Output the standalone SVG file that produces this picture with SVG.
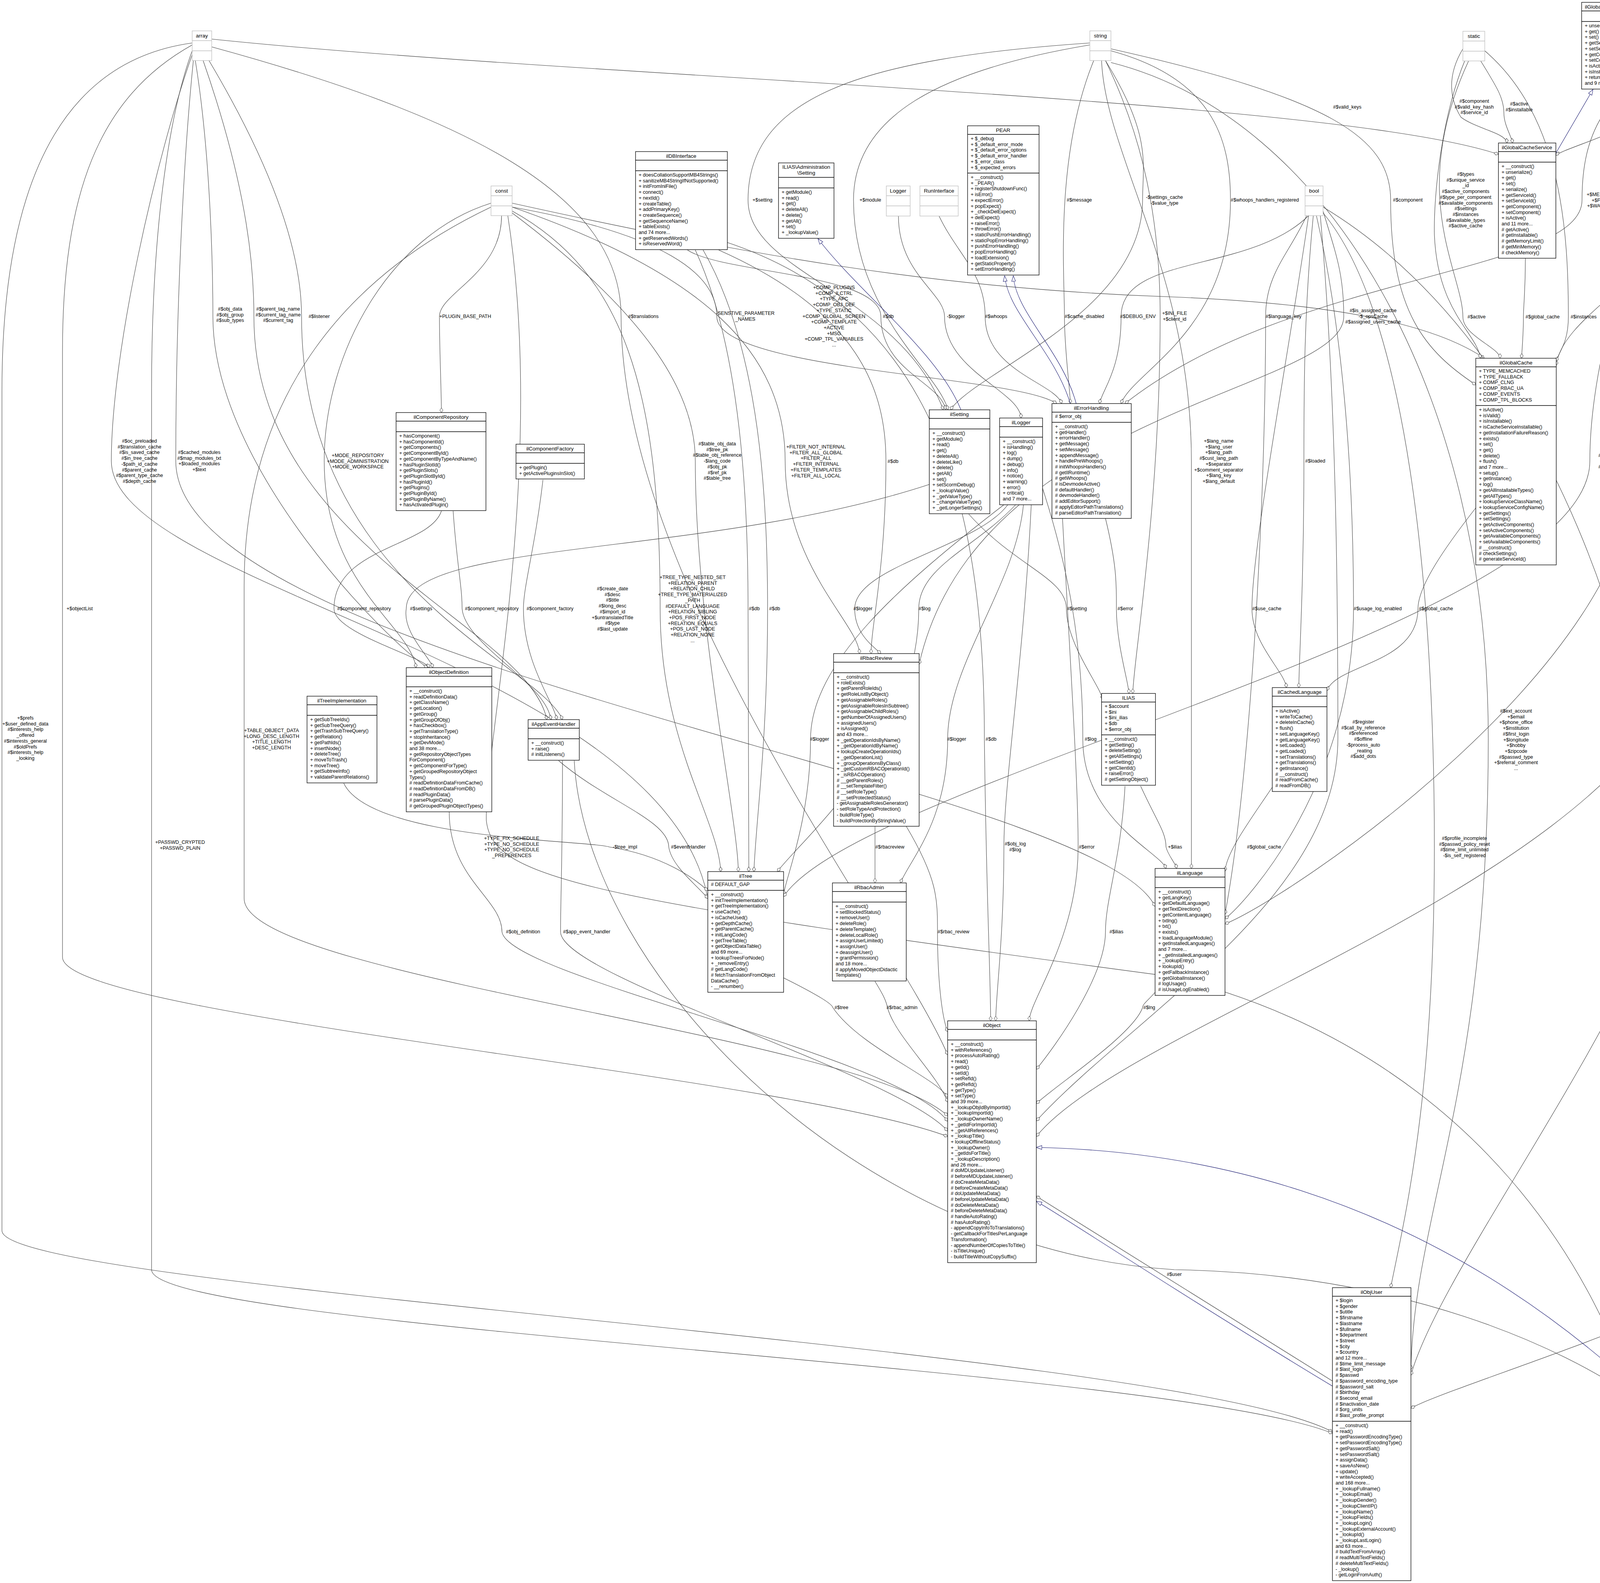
<svg xmlns="http://www.w3.org/2000/svg" width="4889" height="4052" viewBox="0 0 4889 4052">
<style>
.b{fill:#fff;stroke:#000;stroke-width:1.3}
.g{fill:#bfbfbf;stroke:#000;stroke-width:1.3}
.p{fill:#fff;stroke:#bfbfbf;stroke-width:1.3}
.s{stroke:#000;stroke-width:1.3}
.sp{stroke:#bfbfbf;stroke-width:1.3}
text{font-family:"Liberation Sans",Arial,sans-serif;font-size:12.5px;fill:#000}
.n{text-anchor:middle;font-size:13.5px}
.l{text-anchor:middle}
.e{fill:none;stroke:#404040;stroke-width:1.1;marker-end:url(#dia)}
.i{fill:none;stroke:#191970;stroke-width:1.1;marker-end:url(#tri)}
</style>
<defs>
<marker id="dia" markerUnits="userSpaceOnUse" markerWidth="14" markerHeight="10" refX="13" refY="5" orient="auto"><path d="M1,5 L7,1 13,5 7,9 z" fill="#fff" stroke="#404040" stroke-width="1"/></marker>
<marker id="tri" markerUnits="userSpaceOnUse" markerWidth="16" markerHeight="12" refX="15" refY="6" orient="auto"><path d="M1,1 L15,6 1,11 z" fill="#fff" stroke="#191970" stroke-width="1"/></marker>
</defs>
<rect width="4889" height="4052" fill="#fff"/>
<g id="connectors">
<path class="e" d="M492,110 C200,150 5,400 5,1000 L5,3150 C5,3300 3000,3450 3411,3665"/>
<path class="e" d="M492,115 C250,250 160,500 160,900 L160,2450 C160,2600 2000,2750 2426,2909"/>
<path class="e" d="M492,130 C430,300 388,600 388,1000 L388,3250 C388,3400 3000,3500 3411,3669"/>
<path class="e" d="M500,155 C540,400 545,700 545,810 C545,1200 1000,1650 1095,1709"/>
<path class="e" d="M520,155 C640,500 650,700 650,810 C650,1400 1350,1600 1400,1842"/>
<path class="e" d="M535,155 C740,500 772,700 772,810 C772,1500 1380,1700 1440,1842"/>
<path class="e" d="M542,100 C1500,200 3400,250 3836,395"/>
<path class="e" d="M542,120 C1200,300 1590,500 1590,810 C1590,1500 2300,2400 2426,2700"/>
<path class="e" d="M492,140 C400,400 285,900 285,1180 C285,1500 1700,1700 1812,2300"/>
<path class="e" d="M495,155 C470,400 450,800 450,1180 C450,1700 2800,2000 2957,2320"/>
<path class="e" d="M1257,520 C1000,600 830,900 830,1180 C830,1500 1050,1600 1065,1709"/>
<path class="e" d="M1284,552 C1284,700 1125,750 1125,810 C1125,900 1130,1000 1130,1056"/>
<path class="e" d="M1257,530 C900,700 625,1000 625,1500 L625,2300 C625,2500 2200,2650 2426,2856"/>
<path class="e" d="M1300,552 C1400,1200 1240,1900 1245,2100 C1260,2250 1500,2300 3000,2500 C3800,2700 4100,3300 4188,3600"/>
<path class="e" d="M1311,540 C1600,700 1690,1000 1690,1560 C1690,1900 1840,2100 1845,2231"/>
<path class="e" d="M1311,530 C1800,700 2010,900 2010,1180 C2010,1450 2200,1600 2200,1673"/>
<path class="e" d="M1311,520 C1900,650 2400,740 3000,760 C3500,780 3700,850 3800,917"/>
<path class="e" d="M1311,530 C1700,600 1835,700 1835,810 C1835,950 2600,960 2705,1033"/>
<path class="e" d="M1311,545 C1650,800 1780,1000 1780,1180 C1780,1600 1890,2100 1890,2231"/>
<path class="e" d="M2300,553 C2300,700 2418,750 2418,810 C2418,950 2610,1000 2614,1070"/>
<path class="e" d="M2404,553 C2450,650 2522,700 2522,810 C2522,950 2700,980 2718,1033"/>
<path class="e" d="M1760,640 C1850,700 2255,700 2255,810 C2255,950 2410,980 2421,1049"/>
<path class="e" d="M2800,155 C2700,400 2725,700 2725,810 C2725,900 2740,1000 2740,1033"/>
<path class="e" d="M3350,552 C3200,700 2870,650 2870,810 C2870,950 2820,1000 2815,1033"/>
<path class="e" d="M2830,155 C2900,300 2970,500 2970,810 C2970,1300 2900,1700 2900,1775"/>
<path class="e" d="M2830,155 C2950,350 2925,420 2925,512 C2925,800 2500,950 2433,1049"/>
<path class="e" d="M2844,130 C3100,200 3150,350 3150,512 C3150,850 2900,950 2870,1033"/>
<path class="e" d="M2844,125 C3400,250 3560,350 3560,512 C3560,800 3650,900 3778,985"/>
<path class="e" d="M1780,640 C1900,900 1915,1300 1915,1558 C1915,1900 1915,2100 1917,2231"/>
<path class="e" d="M1800,640 C1950,900 1965,1300 1965,1558 C1965,1900 1935,2100 1930,2231"/>
<path class="e" d="M1840,640 C2200,800 2268,1000 2268,1181 C2268,1450 2230,1600 2230,1673"/>
<path class="e" d="M1860,620 C2400,800 2520,1300 2520,1892 C2525,2300 2536,2500 2536,2613"/>
<path class="e" d="M2580,1292 C2500,1400 2188,1450 2188,1558 C2188,1620 2230,1650 2255,1673"/>
<path class="e" d="M2600,1292 C2500,1400 2352,1450 2352,1558 C2352,1900 2050,2150 1990,2231"/>
<path class="e" d="M2620,1292 C2600,1500 2426,1700 2426,1892 C2426,2100 2330,2200 2305,2260"/>
<path class="e" d="M2570,1292 C2300,1500 2075,1700 2075,1892 C2075,2100 2010,2250 2006,2290"/>
<path class="e" d="M2640,1292 C2620,1700 2570,2000 2570,2168 C2570,2400 2549,2550 2549,2613"/>
<path class="e" d="M2480,1316 C2600,1450 2730,1480 2730,1558 C2730,1650 2820,1760 2822,1790"/>
<path class="e" d="M2830,1327 C2860,1450 2858,1500 2858,1558 C2858,1650 2890,1750 2890,1775"/>
<path class="e" d="M2720,1327 C2740,1700 2760,2000 2760,2168 C2760,2400 2635,2560 2635,2613"/>
<path class="e" d="M2669,1250 C2750,1500 2772,1700 2772,1892 C2772,2100 2970,2180 2985,2223"/>
<path class="e" d="M2240,2115 C2240,2150 2240,2200 2240,2260"/>
<path class="e" d="M2320,2115 C2400,2250 2400,2300 2400,2385 C2400,2500 2410,2600 2426,2641"/>
<path class="e" d="M2240,2512 C2260,2545 2268,2560 2272,2579 C2290,2650 2400,2750 2426,2821"/>
<path class="e" d="M2000,2500 C2100,2550 2130,2570 2132,2579 C2200,2680 2400,2760 2426,2809"/>
<path class="e" d="M880,2005 C950,2150 1500,2150 1560,2168 C1700,2190 1780,2250 1812,2280"/>
<path class="e" d="M1430,1947 C1550,2050 1712,2100 1712,2168 C1720,2220 1790,2270 1812,2300"/>
<path class="e" d="M1150,2078 C1150,2250 1285,2300 1285,2385 C1300,2500 2300,2700 2426,2870"/>
<path class="e" d="M1440,1947 C1440,2200 1435,2300 1435,2385 C1435,2500 2300,2750 2426,2895"/>
<path class="e" d="M2880,2012 C2870,2200 2830,2300 2830,2385 C2830,2500 2700,2680 2653,2737"/>
<path class="e" d="M2920,2012 C2960,2100 2985,2130 2985,2168 C2990,2190 3010,2210 3012,2223"/>
<path class="e" d="M3257,2015 C3200,2100 3140,2180 3136,2230"/>
<path class="e" d="M2957,2540 C2940,2560 2925,2570 2925,2579 C2900,2650 2700,2780 2653,2825"/>
<path class="e" d="M3350,552 C3300,900 3205,1400 3205,1558 C3205,1650 3290,1720 3293,1760"/>
<path class="e" d="M3362,552 C3338,800 3338,1000 3338,1180 C3338,1500 3325,1700 3325,1760"/>
<path class="e" d="M2820,155 C2830,400 3050,700 3050,1180 C3050,1700 3050,2100 3050,2223"/>
<path class="e" d="M3345,552 C3300,650 3240,700 3240,810 C3240,1300 3200,2000 3136,2340"/>
<path class="e" d="M3370,552 C3450,900 3465,1300 3465,1558 C3465,2000 3200,2300 3136,2352"/>
<path class="e" d="M3778,1300 C3700,1400 3630,1500 3630,1558 C3630,1700 3420,1700 3397,1768"/>
<path class="e" d="M3387,540 C3420,650 3440,700 3440,810 C3440,1000 2500,1050 2353,1700"/>
<path class="e" d="M3380,552 C3420,1000 3425,1500 3425,1890 C3425,2300 2900,2600 2653,2869"/>
<path class="e" d="M3387,545 C3600,800 3672,1500 3672,2168 C3672,2800 3600,3100 3560,3296"/>
<path class="e" d="M3745,125 C3700,200 3715,260 3740,300 C3780,330 3855,340 3858,366"/>
<path class="e" d="M3790,155 C3830,220 3850,250 3850,290 C3850,320 3870,350 3872,366"/>
<path class="e" d="M3750,155 C3690,300 3670,500 3672,600 C3680,800 3780,850 3790,917"/>
<path class="e" d="M4376,110 C4300,160 4190,220 4190,290 C4190,330 4000,380 3983,398"/>
<path class="e" d="M4376,115 C4100,200 4050,350 4050,512 C4050,700 3300,700 2880,1033"/>
<path class="e" d="M4380,155 C4330,300 4280,400 4280,512 C4280,700 4000,800 3984,935"/>
<path class="e" d="M3905,661 C3905,750 3900,780 3900,811 C3900,850 3897,890 3895,917"/>
<path class="e" d="M3760,155 C3600,500 3745,700 3745,811 C3745,860 3840,890 3840,917"/>
<path class="e" d="M3801,130 C4000,300 4015,600 4015,811 C4015,880 3990,900 3984,925"/>
<path class="e" d="M4376,140 C4200,500 4070,900 4070,1180 C4070,1600 2200,2000 2006,2295"/>
<path class="e" d="M4390,155 C4300,600 4190,900 4190,1180 C4190,1700 3300,2300 3136,2365"/>
<path class="e" d="M4400,155 C4420,600 4340,1200 4340,1558 C4340,2200 2900,2600 2653,2909"/>
<path class="e" d="M2844,160 C3400,300 3810,1000 3810,1890 C3810,2800 3620,3100 3612,3506"/>
<path class="e" d="M3387,530 C4000,900 4230,1800 4230,2160 C4240,2700 4297,3300 4297,3523"/>
<path class="e" d="M4410,150 C4450,800 4360,1500 4360,1892 C4360,2400 3700,3200 3612,3520"/>
<path class="e" d="M4415,140 C4540,400 4547,600 4547,900 L4547,3170 C4547,3300 3700,3550 3612,3605"/>
<path class="e" d="M4415,130 C4700,350 4762,600 4762,900 L4762,3080 C4762,3350 4450,3500 4404,3560"/>
<path class="e" d="M1470,1947 C1500,2500 2200,3200 3006,3250 C3600,3260 4000,3450 4188,3580"/>
<path class="e" d="M2790,115 C2400,180 2185,300 2185,512 C2185,800 2400,950 2427,1049"/>
<path class="e" d="M2790,110 C2200,150 1915,250 1915,512 C1915,700 2300,750 2415,1049"/>
<path class="e" d="M1130,1308 C1100,1400 855,1400 855,1558 C855,1620 1080,1680 1100,1709"/>
<path class="e" d="M1160,1308 C1170,1450 1183,1500 1183,1558 C1190,1650 1400,1750 1410,1842"/>
<path class="e" d="M1390,1228 C1370,1400 1340,1500 1340,1558 C1340,1700 1420,1800 1425,1842"/>
<path class="e" d="M2379,1240 C1800,1430 1040,1380 1040,1558 C1030,1620 1100,1680 1108,1709"/>
<path class="e" d="M3411,3535 C3000,3280 2700,3090 2653,3062"/>
<path class="i" d="M3411,3548 C3000,3300 2700,3100 2653,3075"/>
<path class="i" d="M4188,3555 C3800,3200 3300,2950 2653,2937"/>
<path class="i" d="M2460,1049 C2400,900 2200,750 2094,611"/>
<path class="i" d="M2740,1033 C2700,900 2580,800 2572,706"/>
<path class="i" d="M2755,1033 C2720,900 2600,800 2594,706"/>
<path class="i" d="M3983,392 L4078,229"/>
<text x="65" y="1842" class="l"><tspan x="65">+$prefs</tspan><tspan x="65" dy="14.7">+$user_defined_data</tspan><tspan x="65" dy="14.7">#$interests_help</tspan><tspan x="65" dy="14.7">_offered</tspan><tspan x="65" dy="14.7">#$interests_general</tspan><tspan x="65" dy="14.7">#$oldPrefs</tspan><tspan x="65" dy="14.7">#$interests_help</tspan><tspan x="65" dy="14.7">_looking</tspan></text>
<text x="204" y="1562" class="l">+$objectList</text>
<text x="461" y="2160" class="l"><tspan x="461">+PASSWD_CRYPTED</tspan><tspan x="461" dy="14.7">+PASSWD_PLAIN</tspan></text>
<text class="l" y="795"><tspan x="589">#$obj_data</tspan><tspan x="589" dy="14.7">#$obj_group</tspan><tspan x="589" dy="14.7">#$sub_types</tspan></text>
<text class="l" y="795"><tspan x="712">#$parent_tag_name</tspan><tspan x="712" dy="14.7">#$current_tag_name</tspan><tspan x="712" dy="14.7">#$current_tag</tspan></text>
<text x="817" y="814" class="l">#$listener</text>
<text x="1191" y="814" class="l">+PLUGIN_BASE_PATH</text>
<text x="1647" y="814" class="l">#$translations</text>
<text class="l" y="806"><tspan x="1908">-SENSTIVE_PARAMETER</tspan><tspan x="1908" dy="14.7">_NAMES</tspan></text>
<text class="l" y="740"><tspan x="2135">+COMP_PLUGINS</tspan><tspan x="2135" dy="14.7">+COMP_ILCTRL</tspan><tspan x="2135" dy="14.7">+TYPE_APC</tspan><tspan x="2135" dy="14.7">+COMP_OBJ_DEF</tspan><tspan x="2135" dy="14.7">+TYPE_STATIC</tspan><tspan x="2135" dy="14.7">+COMP_GLOBAL_SCREEN</tspan><tspan x="2135" dy="14.7">+COMP_TEMPLATE</tspan><tspan x="2135" dy="14.7">+ACTIVE</tspan><tspan x="2135" dy="14.7">+MSG</tspan><tspan x="2135" dy="14.7">+COMP_TPL_VARIABLES</tspan><tspan x="2135" dy="14.7">...</tspan></text>
<text x="1952" y="516" class="l">+$setting</text>
<text x="2228" y="516" class="l">+$module</text>
<text x="2763" y="516" class="l">#$message</text>
<text class="l" y="509"><tspan x="2981">-$settings_cache</tspan><tspan x="2981" dy="14.7">-$value_type</tspan></text>
<text x="3238" y="516" class="l">#$whoops_handlers_registered</text>
<text x="3604" y="516" class="l">#$component</text>
<text x="3449" y="278" class="l">#$valid_keys</text>
<text x="2274" y="814" class="l">#$db</text>
<text x="2447" y="814" class="l">-$logger</text>
<text x="2550" y="814" class="l">#$whoops</text>
<text x="2776" y="814" class="l">#$cache_disabled</text>
<text x="2913" y="814" class="l">#$DEBUG_ENV</text>
<text class="l" y="806"><tspan x="3007">+$INI_FILE</tspan><tspan x="3007" dy="14.7">+$client_id</tspan></text>
<text x="3286" y="814" class="l">#$language_key</text>
<text class="l" y="799"><tspan x="3515">#$is_assigned_cache</tspan><tspan x="3515" dy="14.7">-$_opsCache</tspan><tspan x="3515" dy="14.7">#$assigned_users_cache</tspan></text>
<text class="l" y="1140"><tspan x="1836">#$table_obj_data</tspan><tspan x="1836" dy="14.7">#$tree_pk</tspan><tspan x="1836" dy="14.7">#$table_obj_reference</tspan><tspan x="1836" dy="14.7">-$lang_code</tspan><tspan x="1836" dy="14.7">#$obj_pk</tspan><tspan x="1836" dy="14.7">#$ref_pk</tspan><tspan x="1836" dy="14.7">#$table_tree</tspan></text>
<text class="l" y="1148"><tspan x="2089">+FILTER_NOT_INTERNAL</tspan><tspan x="2089" dy="14.7">+FILTER_ALL_GLOBAL</tspan><tspan x="2089" dy="14.7">+FILTER_ALL</tspan><tspan x="2089" dy="14.7">+FILTER_INTERNAL</tspan><tspan x="2089" dy="14.7">+FILTER_TEMPLATES</tspan><tspan x="2089" dy="14.7">+FILTER_ALL_LOCAL</tspan></text>
<text x="2286" y="1185" class="l">#$db</text>
<text class="l" y="263"><tspan x="3774">#$component</tspan><tspan x="3774" dy="14.7">#$valid_key_hash</tspan><tspan x="3774" dy="14.7">#$service_id</tspan></text>
<text class="l" y="270"><tspan x="3889">#$active</tspan><tspan x="3889" dy="14.7">#$installable</tspan></text>
<text class="l" y="450"><tspan x="3752">#$types</tspan><tspan x="3752" dy="14.7">#$unique_service</tspan><tspan x="3752" dy="14.7">_id</tspan><tspan x="3752" dy="14.7">#$active_components</tspan><tspan x="3752" dy="14.7">#$type_per_component</tspan><tspan x="3752" dy="14.7">#$available_components</tspan><tspan x="3752" dy="14.7">#$settings</tspan><tspan x="3752" dy="14.7">#$instances</tspan><tspan x="3752" dy="14.7">#$available_types</tspan><tspan x="3752" dy="14.7">#$active_cache</tspan></text>
<text class="l" y="502"><tspan x="4100">+$MESSAGE</tspan><tspan x="4100" dy="14.7">+$FATAL</tspan><tspan x="4100" dy="14.7">+$WARNING</tspan></text>
<text class="l" y="270"><tspan x="4239">#$current_time</tspan><tspan x="4239" dy="14.7">#$service_type</tspan></text>
<text x="4332" y="516" class="l">#$service_type</text>
<text x="3780" y="815" class="l">#$active</text>
<text x="3949" y="815" class="l">#$global_cache</text>
<text x="4054" y="815" class="l">#$instances</text>
<text class="l" y="1170"><tspan x="4118">#$tree_id</tspan><tspan x="4118" dy="14.7">-$gap</tspan><tspan x="4118" dy="14.7">#$root_id</tspan></text>
<text class="l" y="1170"><tspan x="4252">#$lng_log</tspan><tspan x="4252" dy="14.7">#$used_modules</tspan><tspan x="4252" dy="14.7">#$used_topics</tspan></text>
<text class="l" y="1133"><tspan x="357">#$oc_preloaded</tspan><tspan x="357" dy="14.7">#$translation_cache</tspan><tspan x="357" dy="14.7">#$is_saved_cache</tspan><tspan x="357" dy="14.7">#$in_tree_cache</tspan><tspan x="357" dy="14.7">-$path_id_cache</tspan><tspan x="357" dy="14.7">#$parent_cache</tspan><tspan x="357" dy="14.7">#$parent_type_cache</tspan><tspan x="357" dy="14.7">#$depth_cache</tspan></text>
<text class="l" y="1162"><tspan x="510">#$cached_modules</tspan><tspan x="510" dy="14.7">#$map_modules_txt</tspan><tspan x="510" dy="14.7">+$loaded_modules</tspan><tspan x="510" dy="14.7">+$text</tspan></text>
<text class="l" y="1170"><tspan x="916">+MODE_REPOSITORY</tspan><tspan x="916" dy="14.7">+MODE_ADMINISTRATION</tspan><tspan x="916" dy="14.7">+MODE_WORKSPACE</tspan></text>
<text x="932" y="1562" class="l">#$component_repository</text>
<text x="1078" y="1562" class="l">#$settings</text>
<text x="1259" y="1562" class="l">#$component_repository</text>
<text x="1408" y="1562" class="l">#$component_factory</text>
<text class="l" y="1874"><tspan x="695">+TABLE_OBJECT_DATA</tspan><tspan x="695" dy="14.7">+LONG_DESC_LENGTH</tspan><tspan x="695" dy="14.7">+TITLE_LENGTH</tspan><tspan x="695" dy="14.7">+DESC_LENGTH</tspan></text>
<text class="l" y="2150"><tspan x="1310">+TYPE_FIX_SCHEDULE</tspan><tspan x="1310" dy="14.7">+TYPE_NO_SCHEDULE</tspan><tspan x="1310" dy="14.7">+TYPE_NO_SCHEDULE</tspan><tspan x="1310" dy="14.7">_PREFERENCES</tspan></text>
<text class="l" y="1511"><tspan x="1568">#$create_date</tspan><tspan x="1568" dy="14.7">#$desc</tspan><tspan x="1568" dy="14.7">#$title</tspan><tspan x="1568" dy="14.7">#$long_desc</tspan><tspan x="1568" dy="14.7">#$import_id</tspan><tspan x="1568" dy="14.7">+$untranslatedTitle</tspan><tspan x="1568" dy="14.7">#$type</tspan><tspan x="1568" dy="14.7">#$last_update</tspan></text>
<text class="l" y="1482"><tspan x="1773">+TREE_TYPE_NESTED_SET</tspan><tspan x="1773" dy="14.7">+RELATION_PARENT</tspan><tspan x="1773" dy="14.7">+RELATION_CHILD</tspan><tspan x="1773" dy="14.7">+TREE_TYPE_MATERIALIZED</tspan><tspan x="1773" dy="14.7">_PATH</tspan><tspan x="1773" dy="14.7">#DEFAULT_LANGUAGE</tspan><tspan x="1773" dy="14.7">+RELATION_SIBLING</tspan><tspan x="1773" dy="14.7">+POS_FIRST_NODE</tspan><tspan x="1773" dy="14.7">+RELATION_EQUALS</tspan><tspan x="1773" dy="14.7">+POS_LAST_NODE</tspan><tspan x="1773" dy="14.7">+RELATION_NONE</tspan><tspan x="1773" dy="14.7">...</tspan></text>
<text x="1931" y="1562" class="l">#$db</text>
<text x="1983" y="1562" class="l">#$db</text>
<text x="2209" y="1562" class="l">#$logger</text>
<text x="2367" y="1562" class="l">#$log</text>
<text x="2757" y="1562" class="l">#$setting</text>
<text x="2881" y="1562" class="l">#$error</text>
<text x="2098" y="1896" class="l">#$logger</text>
<text x="2449" y="1896" class="l">#$logger</text>
<text x="2537" y="1896" class="l">#$db</text>
<text x="2792" y="1896" class="l">#$log</text>
<text x="1600" y="2172" class="l">-$tree_impl</text>
<text x="1762" y="2172" class="l">#$eventHandler</text>
<text x="2278" y="2172" class="l">#$rbacreview</text>
<text class="l" y="2164"><tspan x="2599">#$obj_log</tspan><tspan x="2599" dy="14.7">#$log</tspan></text>
<text x="2782" y="2172" class="l">#$error</text>
<text x="1339" y="2389" class="l">#$obj_definition</text>
<text x="1502" y="2389" class="l">#$app_event_handler</text>
<text x="2441" y="2389" class="l">#$rbac_review</text>
<text x="2858" y="2389" class="l">#$ilias</text>
<text x="2154" y="2583" class="l">#$tree</text>
<text x="2309" y="2583" class="l">#$rbac_admin</text>
<text x="2942" y="2583" class="l">#$lng</text>
<text class="l" y="1133"><tspan x="3120">+$lang_name</tspan><tspan x="3120" dy="14.7">+$lang_user</tspan><tspan x="3120" dy="14.7">+$lang_path</tspan><tspan x="3120" dy="14.7">#$cust_lang_path</tspan><tspan x="3120" dy="14.7">+$separator</tspan><tspan x="3120" dy="14.7">+$comment_separator</tspan><tspan x="3120" dy="14.7">+$lang_key</tspan><tspan x="3120" dy="14.7">+$lang_default</tspan></text>
<text x="3367" y="1184" class="l">#$loaded</text>
<text x="3243" y="1562" class="l">#$use_cache</text>
<text x="3527" y="1562" class="l">#$usage_log_enabled</text>
<text x="3676" y="1562" class="l">#$global_cache</text>
<text class="l" y="1852"><tspan x="3490">#$register</tspan><tspan x="3490" dy="14.7">#$call_by_reference</tspan><tspan x="3490" dy="14.7">#$referenced</tspan><tspan x="3490" dy="14.7">#$offline</tspan><tspan x="3490" dy="14.7">-$process_auto</tspan><tspan x="3490" dy="14.7">_reating</tspan><tspan x="3490" dy="14.7">#$add_dots</tspan></text>
<text x="3008" y="2172" class="l">+$ilias</text>
<text x="3236" y="2172" class="l">#$global_cache</text>
<text class="l" y="2150"><tspan x="3749">#$profile_incomplete</tspan><tspan x="3749" dy="14.7">#$passwd_policy_reset</tspan><tspan x="3749" dy="14.7">#$time_limit_unlimited</tspan><tspan x="3749" dy="14.7">-$is_self_registered</tspan></text>
<text class="l" y="1533"><tspan x="4381">#$ref_id</tspan><tspan x="4381" dy="14.7">#$max_desc</tspan><tspan x="4381" dy="14.7">#$max_title</tspan><tspan x="4381" dy="14.7">#$owner</tspan><tspan x="4381" dy="14.7">#$id</tspan></text>
<text class="l" y="1824"><tspan x="3881">#$ext_account</tspan><tspan x="3881" dy="14.7">+$email</tspan><tspan x="3881" dy="14.7">+$phone_office</tspan><tspan x="3881" dy="14.7">+$institution</tspan><tspan x="3881" dy="14.7">#$first_login</tspan><tspan x="3881" dy="14.7">+$longitude</tspan><tspan x="3881" dy="14.7">+$hobby</tspan><tspan x="3881" dy="14.7">+$zipcode</tspan><tspan x="3881" dy="14.7">#$passwd_type</tspan><tspan x="3881" dy="14.7">+$referral_comment</tspan><tspan x="3881" dy="14.7">...</tspan></text>
<text class="l" y="2164"><tspan x="4182">#$offline</tspan><tspan x="4182" dy="14.7">#$public_log</tspan></text>
<text x="4438" y="1896" class="l">#$personal_image_cache</text>
<text class="l" y="1860"><tspan x="4632">#$time_limit_owner</tspan><tspan x="4632" dy="14.7">+$active</tspan><tspan x="4632" dy="14.7">#$time_limit_from</tspan><tspan x="4632" dy="14.7">#$time_limit_until</tspan><tspan x="4632" dy="14.7">+$login_attempts</tspan><tspan x="4632" dy="14.7">+$last_password_change_ts</tspan></text>
<text class="l" y="1852"><tspan x="4823">#$overall_limit</tspan><tspan x="4823" dy="14.7">#$reminder_status</tspan><tspan x="4823" dy="14.7">#$preference_nr</tspan><tspan x="4823" dy="14.7">#$pref_deadline</tspan><tspan x="4823" dy="14.7">#$reminder_day</tspan><tspan x="4823" dy="14.7">#$schedule_type</tspan><tspan x="4823" dy="14.7">#$reservation_period</tspan></text>
<text x="3006" y="3266" class="l">#$user</text>
</g>
<g id="array"><rect class="p" x="492" y="79" width="50" height="76"/><line class="sp" x1="492" y1="104" x2="542" y2="104"/><line class="sp" x1="492" y1="130" x2="542" y2="130"/><text class="n" x="517" y="96">array</text></g>
<g id="const"><rect class="p" x="1257" y="476" width="54" height="76"/><line class="sp" x1="1257" y1="501" x2="1311" y2="501"/><line class="sp" x1="1257" y1="527" x2="1311" y2="527"/><text class="n" x="1284" y="493">const</text></g>
<g id="string"><rect class="p" x="2790" y="79" width="54" height="76"/><line class="sp" x1="2790" y1="104" x2="2844" y2="104"/><line class="sp" x1="2790" y1="130" x2="2844" y2="130"/><text class="n" x="2817" y="96">string</text></g>
<g id="static"><rect class="p" x="3745" y="80" width="56" height="76"/><line class="sp" x1="3745" y1="105" x2="3801" y2="105"/><line class="sp" x1="3745" y1="131" x2="3801" y2="131"/><text class="n" x="3773" y="97">static</text></g>
<g id="int"><rect class="p" x="4376" y="80" width="39" height="76"/><line class="sp" x1="4376" y1="105" x2="4415" y2="105"/><line class="sp" x1="4376" y1="131" x2="4415" y2="131"/><text class="n" x="4395" y="97">int</text></g>
<g id="bool"><rect class="p" x="3341" y="476" width="46" height="76"/><line class="sp" x1="3341" y1="501" x2="3387" y2="501"/><line class="sp" x1="3341" y1="527" x2="3387" y2="527"/><text class="n" x="3364" y="493">bool</text></g>
<g id="Logger"><rect class="p" x="2269" y="476" width="61" height="77"/><line class="sp" x1="2269" y1="501" x2="2330" y2="501"/><line class="sp" x1="2269" y1="527" x2="2330" y2="527"/><text class="n" x="2299" y="493">Logger</text></g>
<g id="RunInterface"><rect class="p" x="2355" y="476" width="98" height="77"/><line class="sp" x1="2355" y1="501" x2="2453" y2="501"/><line class="sp" x1="2355" y1="527" x2="2453" y2="527"/><text class="n" x="2404" y="493">RunInterface</text></g>
<g id="ilIDBInterface"><rect class="b" x="1627" y="388" width="235" height="251"/><line class="s" x1="1627" y1="410" x2="1862" y2="410"/><line class="s" x1="1627" y1="437" x2="1862" y2="437"/><text class="n" x="1744" y="404">ilDBInterface</text><text y="452"><tspan x="1635">+ doesCollationSupportMB4Strings()</tspan><tspan x="1635" dy="14.7">+ sanitizeMB4StringIfNotSupported()</tspan><tspan x="1635" dy="14.7">+ initFromIniFile()</tspan><tspan x="1635" dy="14.7">+ connect()</tspan><tspan x="1635" dy="14.7">+ nextId()</tspan><tspan x="1635" dy="14.7">+ createTable()</tspan><tspan x="1635" dy="14.7">+ addPrimaryKey()</tspan><tspan x="1635" dy="14.7">+ createSequence()</tspan><tspan x="1635" dy="14.7">+ getSequenceName()</tspan><tspan x="1635" dy="14.7">+ tableExists()</tspan><tspan x="1635" dy="14.7">and 74 more...</tspan><tspan x="1635" dy="14.7">+ getReservedWords()</tspan><tspan x="1635" dy="14.7">+ isReservedWord()</tspan></text></g>
<g id="AdminSetting"><rect class="b" x="1993" y="417" width="142" height="193"/><line class="s" x1="1993" y1="454" x2="2135" y2="454"/><line class="s" x1="1993" y1="481" x2="2135" y2="481"/><text class="n" x="2064" y="432">ILIAS\Administration</text><text class="n" x="2064" y="447">\Setting</text><text y="496"><tspan x="2001">+ getModule()</tspan><tspan x="2001" dy="14.7">+ read()</tspan><tspan x="2001" dy="14.7">+ get()</tspan><tspan x="2001" dy="14.7">+ deleteAll()</tspan><tspan x="2001" dy="14.7">+ delete()</tspan><tspan x="2001" dy="14.7">+ getAll()</tspan><tspan x="2001" dy="14.7">+ set()</tspan><tspan x="2001" dy="14.7">+ _lookupValue()</tspan></text></g>
<g id="PEAR"><rect class="b" x="2477" y="322" width="183" height="382"/><line class="s" x1="2477" y1="344" x2="2660" y2="344"/><line class="s" x1="2477" y1="443" x2="2660" y2="443"/><text class="n" x="2568" y="338">PEAR</text><text y="359"><tspan x="2485">+ $_debug</tspan><tspan x="2485" dy="14.7">+ $_default_error_mode</tspan><tspan x="2485" dy="14.7">+ $_default_error_options</tspan><tspan x="2485" dy="14.7">+ $_default_error_handler</tspan><tspan x="2485" dy="14.7">+ $_error_class</tspan><tspan x="2485" dy="14.7">+ $_expected_errors</tspan></text><text y="458"><tspan x="2485">+ __construct()</tspan><tspan x="2485" dy="14.7">+ _PEAR()</tspan><tspan x="2485" dy="14.7">+ registerShutdownFunc()</tspan><tspan x="2485" dy="14.7">+ isError()</tspan><tspan x="2485" dy="14.7">+ expectError()</tspan><tspan x="2485" dy="14.7">+ popExpect()</tspan><tspan x="2485" dy="14.7">+ _checkDelExpect()</tspan><tspan x="2485" dy="14.7">+ delExpect()</tspan><tspan x="2485" dy="14.7">+ raiseError()</tspan><tspan x="2485" dy="14.7">+ throwError()</tspan><tspan x="2485" dy="14.7">+ staticPushErrorHandling()</tspan><tspan x="2485" dy="14.7">+ staticPopErrorHandling()</tspan><tspan x="2485" dy="14.7">+ pushErrorHandling()</tspan><tspan x="2485" dy="14.7">+ popErrorHandling()</tspan><tspan x="2485" dy="14.7">+ loadExtension()</tspan><tspan x="2485" dy="14.7">+ getStaticProperty()</tspan><tspan x="2485" dy="14.7">+ setErrorHandling()</tspan></text></g>
<g id="ilSetting"><rect class="b" x="2379" y="1049" width="155" height="266"/><line class="s" x1="2379" y1="1071" x2="2534" y2="1071"/><line class="s" x1="2379" y1="1098" x2="2534" y2="1098"/><text class="n" x="2456" y="1065">ilSetting</text><text y="1113"><tspan x="2387">+ __construct()</tspan><tspan x="2387" dy="14.7">+ getModule()</tspan><tspan x="2387" dy="14.7">+ read()</tspan><tspan x="2387" dy="14.7">+ get()</tspan><tspan x="2387" dy="14.7">+ deleteAll()</tspan><tspan x="2387" dy="14.7">+ deleteLike()</tspan><tspan x="2387" dy="14.7">+ delete()</tspan><tspan x="2387" dy="14.7">+ getAll()</tspan><tspan x="2387" dy="14.7">+ set()</tspan><tspan x="2387" dy="14.7">+ setScormDebug()</tspan><tspan x="2387" dy="14.7">+ _lookupValue()</tspan><tspan x="2387" dy="14.7">+ _getValueType()</tspan><tspan x="2387" dy="14.7">+ _changeValueType()</tspan><tspan x="2387" dy="14.7">+ _getLongerSettings()</tspan></text></g>
<g id="ilLogger"><rect class="b" x="2559" y="1070" width="110" height="222"/><line class="s" x1="2559" y1="1092" x2="2669" y2="1092"/><line class="s" x1="2559" y1="1119" x2="2669" y2="1119"/><text class="n" x="2614" y="1086">ilLogger</text><text y="1134"><tspan x="2567">+ __construct()</tspan><tspan x="2567" dy="14.7">+ isHandling()</tspan><tspan x="2567" dy="14.7">+ log()</tspan><tspan x="2567" dy="14.7">+ dump()</tspan><tspan x="2567" dy="14.7">+ debug()</tspan><tspan x="2567" dy="14.7">+ info()</tspan><tspan x="2567" dy="14.7">+ notice()</tspan><tspan x="2567" dy="14.7">+ warning()</tspan><tspan x="2567" dy="14.7">+ error()</tspan><tspan x="2567" dy="14.7">+ critical()</tspan><tspan x="2567" dy="14.7">and 7 more...</tspan></text></g>
<g id="ilErrorHandling"><rect class="b" x="2693" y="1033" width="203" height="294"/><line class="s" x1="2693" y1="1055" x2="2896" y2="1055"/><line class="s" x1="2693" y1="1081" x2="2896" y2="1081"/><text class="n" x="2794" y="1049">ilErrorHandling</text><text x="2701" y="1070"># $error_obj</text><text y="1096"><tspan x="2701">+ __construct()</tspan><tspan x="2701" dy="14.7">+ getHandler()</tspan><tspan x="2701" dy="14.7">+ errorHandler()</tspan><tspan x="2701" dy="14.7">+ getMessage()</tspan><tspan x="2701" dy="14.7">+ setMessage()</tspan><tspan x="2701" dy="14.7">+ appendMessage()</tspan><tspan x="2701" dy="14.7">+ handlePreWhoops()</tspan><tspan x="2701" dy="14.7"># initWhoopsHandlers()</tspan><tspan x="2701" dy="14.7"># getIlRuntime()</tspan><tspan x="2701" dy="14.7"># getWhoops()</tspan><tspan x="2701" dy="14.7"># isDevmodeActive()</tspan><tspan x="2701" dy="14.7"># defaultHandler()</tspan><tspan x="2701" dy="14.7"># devmodeHandler()</tspan><tspan x="2701" dy="14.7"># addEditorSupport()</tspan><tspan x="2701" dy="14.7"># applyEditorPathTranslations()</tspan><tspan x="2701" dy="14.7"># parseEditorPathTranslation()</tspan></text></g>
<g id="ilGlobalCacheServiceInterface"><rect class="b" x="4049" y="6" width="198" height="222"/><line class="s" x1="4049" y1="28" x2="4247" y2="28"/><line class="s" x1="4049" y1="55" x2="4247" y2="55"/><text class="n" x="4148" y="22">ilGlobalCacheServiceInterface</text><text y="70"><tspan x="4057">+ unserialize()</tspan><tspan x="4057" dy="14.7">+ get()</tspan><tspan x="4057" dy="14.7">+ set()</tspan><tspan x="4057" dy="14.7">+ getServiceId()</tspan><tspan x="4057" dy="14.7">+ setServiceId()</tspan><tspan x="4057" dy="14.7">+ getComponent()</tspan><tspan x="4057" dy="14.7">+ setComponent()</tspan><tspan x="4057" dy="14.7">+ isActive()</tspan><tspan x="4057" dy="14.7">+ isInstallable()</tspan><tspan x="4057" dy="14.7">+ returnKey()</tspan><tspan x="4057" dy="14.7">and 9 more...</tspan></text></g>
<g id="ilGlobalCacheService"><rect class="b" x="3836" y="366" width="147" height="295"/><line class="s" x1="3836" y1="388" x2="3983" y2="388"/><line class="s" x1="3836" y1="415" x2="3983" y2="415"/><text class="n" x="3909" y="382">ilGlobalCacheService</text><text y="430"><tspan x="3844">+ __construct()</tspan><tspan x="3844" dy="14.7">+ unserialize()</tspan><tspan x="3844" dy="14.7">+ get()</tspan><tspan x="3844" dy="14.7">+ set()</tspan><tspan x="3844" dy="14.7">+ serialize()</tspan><tspan x="3844" dy="14.7">+ getServiceId()</tspan><tspan x="3844" dy="14.7">+ setServiceId()</tspan><tspan x="3844" dy="14.7">+ getComponent()</tspan><tspan x="3844" dy="14.7">+ setComponent()</tspan><tspan x="3844" dy="14.7">+ isActive()</tspan><tspan x="3844" dy="14.7">and 11 more...</tspan><tspan x="3844" dy="14.7"># getActive()</tspan><tspan x="3844" dy="14.7"># getInstallable()</tspan><tspan x="3844" dy="14.7"># getMemoryLimit()</tspan><tspan x="3844" dy="14.7"># getMinMemory()</tspan><tspan x="3844" dy="14.7"># checkMemory()</tspan></text></g>
<g id="ilGlobalCache"><rect class="b" x="3778" y="917" width="206" height="529"/><line class="s" x1="3778" y1="939" x2="3984" y2="939"/><line class="s" x1="3778" y1="1038" x2="3984" y2="1038"/><text class="n" x="3881" y="933">ilGlobalCache</text><text y="954"><tspan x="3786">+ TYPE_MEMCACHED</tspan><tspan x="3786" dy="14.7">+ TYPE_FALLBACK</tspan><tspan x="3786" dy="14.7">+ COMP_CLNG</tspan><tspan x="3786" dy="14.7">+ COMP_RBAC_UA</tspan><tspan x="3786" dy="14.7">+ COMP_EVENTS</tspan><tspan x="3786" dy="14.7">+ COMP_TPL_BLOCKS</tspan></text><text y="1053"><tspan x="3786">+ isActive()</tspan><tspan x="3786" dy="14.7">+ isValid()</tspan><tspan x="3786" dy="14.7">+ isInstallable()</tspan><tspan x="3786" dy="14.7">+ isCacheServiceInstallable()</tspan><tspan x="3786" dy="14.7">+ getInstallationFailureReason()</tspan><tspan x="3786" dy="14.7">+ exists()</tspan><tspan x="3786" dy="14.7">+ set()</tspan><tspan x="3786" dy="14.7">+ get()</tspan><tspan x="3786" dy="14.7">+ delete()</tspan><tspan x="3786" dy="14.7">+ flush()</tspan><tspan x="3786" dy="14.7">and 7 more...</tspan><tspan x="3786" dy="14.7">+ setup()</tspan><tspan x="3786" dy="14.7">+ getInstance()</tspan><tspan x="3786" dy="14.7">+ log()</tspan><tspan x="3786" dy="14.7">+ getAllInstallableTypes()</tspan><tspan x="3786" dy="14.7">+ getAllTypes()</tspan><tspan x="3786" dy="14.7">+ lookupServiceClassName()</tspan><tspan x="3786" dy="14.7">+ lookupServiceConfigName()</tspan><tspan x="3786" dy="14.7">+ getSettings()</tspan><tspan x="3786" dy="14.7">+ setSettings()</tspan><tspan x="3786" dy="14.7">+ getActiveComponents()</tspan><tspan x="3786" dy="14.7">+ setActiveComponents()</tspan><tspan x="3786" dy="14.7">+ getAvailableComponents()</tspan><tspan x="3786" dy="14.7">+ setAvailableComponents()</tspan><tspan x="3786" dy="14.7"># __construct()</tspan><tspan x="3786" dy="14.7"># checkSettings()</tspan><tspan x="3786" dy="14.7"># generateServiceId()</tspan></text></g>
<g id="ilComponentRepository"><rect class="b" x="1014" y="1056" width="230" height="251"/><line class="s" x1="1014" y1="1078" x2="1244" y2="1078"/><line class="s" x1="1014" y1="1105" x2="1244" y2="1105"/><text class="n" x="1129" y="1072">ilComponentRepository</text><text y="1120"><tspan x="1022">+ hasComponent()</tspan><tspan x="1022" dy="14.7">+ hasComponentId()</tspan><tspan x="1022" dy="14.7">+ getComponents()</tspan><tspan x="1022" dy="14.7">+ getComponentById()</tspan><tspan x="1022" dy="14.7">+ getComponentByTypeAndName()</tspan><tspan x="1022" dy="14.7">+ hasPluginSlotId()</tspan><tspan x="1022" dy="14.7">+ getPluginSlots()</tspan><tspan x="1022" dy="14.7">+ getPluginSlotById()</tspan><tspan x="1022" dy="14.7">+ hasPluginId()</tspan><tspan x="1022" dy="14.7">+ getPlugins()</tspan><tspan x="1022" dy="14.7">+ getPluginById()</tspan><tspan x="1022" dy="14.7">+ getPluginByName()</tspan><tspan x="1022" dy="14.7">+ hasActivatedPlugin()</tspan></text></g>
<g id="ilComponentFactory"><rect class="b" x="1321" y="1137" width="175" height="89"/><line class="s" x1="1321" y1="1159" x2="1496" y2="1159"/><line class="s" x1="1321" y1="1186" x2="1496" y2="1186"/><text class="n" x="1408" y="1153">ilComponentFactory</text><text y="1201"><tspan x="1329">+ getPlugin()</tspan><tspan x="1329" dy="14.7">+ getActivePluginsInSlot()</tspan></text></g>
<g id="ilObjectDefinition"><rect class="b" x="1040" y="1709" width="219" height="369"/><line class="s" x1="1040" y1="1731" x2="1259" y2="1731"/><line class="s" x1="1040" y1="1758" x2="1259" y2="1758"/><text class="n" x="1149" y="1725">ilObjectDefinition</text><text y="1773"><tspan x="1048">+ __construct()</tspan><tspan x="1048" dy="14.7">+ readDefinitionData()</tspan><tspan x="1048" dy="14.7">+ getClassName()</tspan><tspan x="1048" dy="14.7">+ getLocation()</tspan><tspan x="1048" dy="14.7">+ getGroup()</tspan><tspan x="1048" dy="14.7">+ getGroupOfObj()</tspan><tspan x="1048" dy="14.7">+ hasCheckbox()</tspan><tspan x="1048" dy="14.7">+ getTranslationType()</tspan><tspan x="1048" dy="14.7">+ stopInheritance()</tspan><tspan x="1048" dy="14.7">+ getDevMode()</tspan><tspan x="1048" dy="14.7">and 38 more...</tspan><tspan x="1048" dy="14.7">+ getRepositoryObjectTypes</tspan><tspan x="1048" dy="14.7">ForComponent()</tspan><tspan x="1048" dy="14.7">+ getComponentForType()</tspan><tspan x="1048" dy="14.7">+ getGroupedRepositoryObject</tspan><tspan x="1048" dy="14.7">Types()</tspan><tspan x="1048" dy="14.7"># readDefinitionDataFromCache()</tspan><tspan x="1048" dy="14.7"># readDefinitionDataFromDB()</tspan><tspan x="1048" dy="14.7"># readPluginData()</tspan><tspan x="1048" dy="14.7"># parsePluginData()</tspan><tspan x="1048" dy="14.7"># getGroupedPluginObjectTypes()</tspan></text></g>
<g id="ilTreeImplementation"><rect class="b" x="786" y="1782" width="179" height="222"/><line class="s" x1="786" y1="1804" x2="965" y2="1804"/><line class="s" x1="786" y1="1831" x2="965" y2="1831"/><text class="n" x="875" y="1798">ilTreeImplementation</text><text y="1846"><tspan x="794">+ getSubTreeIds()</tspan><tspan x="794" dy="14.7">+ getSubTreeQuery()</tspan><tspan x="794" dy="14.7">+ getTrashSubTreeQuery()</tspan><tspan x="794" dy="14.7">+ getRelation()</tspan><tspan x="794" dy="14.7">+ getPathIds()</tspan><tspan x="794" dy="14.7">+ insertNode()</tspan><tspan x="794" dy="14.7">+ deleteTree()</tspan><tspan x="794" dy="14.7">+ moveToTrash()</tspan><tspan x="794" dy="14.7">+ moveTree()</tspan><tspan x="794" dy="14.7">+ getSubtreeInfo()</tspan><tspan x="794" dy="14.7">+ validateParentRelations()</tspan></text></g>
<g id="ilAppEventHandler"><rect class="b" x="1352" y="1842" width="131" height="104"/><line class="s" x1="1352" y1="1864" x2="1483" y2="1864"/><line class="s" x1="1352" y1="1891" x2="1483" y2="1891"/><text class="n" x="1417" y="1858">ilAppEventHandler</text><text y="1906"><tspan x="1360">+ __construct()</tspan><tspan x="1360" dy="14.7">+ raise()</tspan><tspan x="1360" dy="14.7"># initListeners()</tspan></text></g>
<g id="ilRbacReview"><rect class="b" x="2134" y="1673" width="219" height="442"/><line class="s" x1="2134" y1="1695" x2="2353" y2="1695"/><line class="s" x1="2134" y1="1722" x2="2353" y2="1722"/><text class="n" x="2243" y="1689">ilRbacReview</text><text y="1737"><tspan x="2142">+ __construct()</tspan><tspan x="2142" dy="14.7">+ roleExists()</tspan><tspan x="2142" dy="14.7">+ getParentRoleIds()</tspan><tspan x="2142" dy="14.7">+ getRoleListByObject()</tspan><tspan x="2142" dy="14.7">+ getAssignableRoles()</tspan><tspan x="2142" dy="14.7">+ getAssignableRolesInSubtree()</tspan><tspan x="2142" dy="14.7">+ getAssignableChildRoles()</tspan><tspan x="2142" dy="14.7">+ getNumberOfAssignedUsers()</tspan><tspan x="2142" dy="14.7">+ assignedUsers()</tspan><tspan x="2142" dy="14.7">+ isAssigned()</tspan><tspan x="2142" dy="14.7">and 43 more...</tspan><tspan x="2142" dy="14.7">+ _getOperationIdsByName()</tspan><tspan x="2142" dy="14.7">+ _getOperationIdByName()</tspan><tspan x="2142" dy="14.7">+ lookupCreateOperationIds()</tspan><tspan x="2142" dy="14.7">+ _getOperationList()</tspan><tspan x="2142" dy="14.7">+ _groupOperationsByClass()</tspan><tspan x="2142" dy="14.7">+ _getCustomRBACOperationId()</tspan><tspan x="2142" dy="14.7">+ _isRBACOperation()</tspan><tspan x="2142" dy="14.7"># __getParentRoles()</tspan><tspan x="2142" dy="14.7"># __setTemplateFilter()</tspan><tspan x="2142" dy="14.7"># __setRoleType()</tspan><tspan x="2142" dy="14.7"># __setProtectedStatus()</tspan><tspan x="2142" dy="14.7">- getAssignableRolesGenerator()</tspan><tspan x="2142" dy="14.7">- setRoleTypeAndProtection()</tspan><tspan x="2142" dy="14.7">- buildRoleType()</tspan><tspan x="2142" dy="14.7">- buildProtectionByStringValue()</tspan></text></g>
<g id="ILIAS"><rect class="b" x="2820" y="1775" width="138" height="235"/><line class="s" x1="2820" y1="1797" x2="2958" y2="1797"/><line class="s" x1="2820" y1="1881" x2="2958" y2="1881"/><text class="n" x="2889" y="1791">ILIAS</text><text y="1812"><tspan x="2828">+ $account</tspan><tspan x="2828" dy="14.7">+ $ini</tspan><tspan x="2828" dy="14.7">+ $ini_ilias</tspan><tspan x="2828" dy="14.7">+ $db</tspan><tspan x="2828" dy="14.7">+ $error_obj</tspan></text><text y="1896"><tspan x="2828">+ __construct()</tspan><tspan x="2828" dy="14.7">+ getSetting()</tspan><tspan x="2828" dy="14.7">+ deleteSetting()</tspan><tspan x="2828" dy="14.7">+ getAllSettings()</tspan><tspan x="2828" dy="14.7">+ setSetting()</tspan><tspan x="2828" dy="14.7">+ getClientId()</tspan><tspan x="2828" dy="14.7">+ raiseError()</tspan><tspan x="2828" dy="14.7"># getSettingObject()</tspan></text></g>
<g id="ilCachedLanguage"><rect class="b" x="3257" y="1760" width="140" height="266"/><line class="s" x1="3257" y1="1782" x2="3397" y2="1782"/><line class="s" x1="3257" y1="1809" x2="3397" y2="1809"/><text class="n" x="3327" y="1776">ilCachedLanguage</text><text y="1824"><tspan x="3265">+ isActive()</tspan><tspan x="3265" dy="14.7">+ writeToCache()</tspan><tspan x="3265" dy="14.7">+ deleteInCache()</tspan><tspan x="3265" dy="14.7">+ flush()</tspan><tspan x="3265" dy="14.7">+ setLanguageKey()</tspan><tspan x="3265" dy="14.7">+ getLanguageKey()</tspan><tspan x="3265" dy="14.7">+ setLoaded()</tspan><tspan x="3265" dy="14.7">+ getLoaded()</tspan><tspan x="3265" dy="14.7">+ setTranslations()</tspan><tspan x="3265" dy="14.7">+ getTranslations()</tspan><tspan x="3265" dy="14.7">+ getInstance()</tspan><tspan x="3265" dy="14.7"># __construct()</tspan><tspan x="3265" dy="14.7"># readFromCache()</tspan><tspan x="3265" dy="14.7"># readFromDB()</tspan></text></g>
<g id="ilTree"><rect class="b" x="1812" y="2231" width="194" height="309"/><line class="s" x1="1812" y1="2253" x2="2006" y2="2253"/><line class="s" x1="1812" y1="2279" x2="2006" y2="2279"/><text class="n" x="1909" y="2247">ilTree</text><text x="1820" y="2268"># DEFAULT_GAP</text><text y="2294"><tspan x="1820">+ __construct()</tspan><tspan x="1820" dy="14.7">+ initTreeImplementation()</tspan><tspan x="1820" dy="14.7">+ getTreeImplementation()</tspan><tspan x="1820" dy="14.7">+ useCache()</tspan><tspan x="1820" dy="14.7">+ isCacheUsed()</tspan><tspan x="1820" dy="14.7">+ getDepthCache()</tspan><tspan x="1820" dy="14.7">+ getParentCache()</tspan><tspan x="1820" dy="14.7">+ initLangCode()</tspan><tspan x="1820" dy="14.7">+ getTreeTable()</tspan><tspan x="1820" dy="14.7">+ getObjectDataTable()</tspan><tspan x="1820" dy="14.7">and 69 more...</tspan><tspan x="1820" dy="14.7">+ lookupTreesForNode()</tspan><tspan x="1820" dy="14.7">+ _removeEntry()</tspan><tspan x="1820" dy="14.7"># getLangCode()</tspan><tspan x="1820" dy="14.7"># fetchTranslationFromObject</tspan><tspan x="1820" dy="14.7">DataCache()</tspan><tspan x="1820" dy="14.7">- __renumber()</tspan></text></g>
<g id="ilRbacAdmin"><rect class="b" x="2131" y="2260" width="189" height="251"/><line class="s" x1="2131" y1="2282" x2="2320" y2="2282"/><line class="s" x1="2131" y1="2309" x2="2320" y2="2309"/><text class="n" x="2225" y="2276">ilRbacAdmin</text><text y="2324"><tspan x="2139">+ __construct()</tspan><tspan x="2139" dy="14.7">+ setBlockedStatus()</tspan><tspan x="2139" dy="14.7">+ removeUser()</tspan><tspan x="2139" dy="14.7">+ deleteRole()</tspan><tspan x="2139" dy="14.7">+ deleteTemplate()</tspan><tspan x="2139" dy="14.7">+ deleteLocalRole()</tspan><tspan x="2139" dy="14.7">+ assignUserLimited()</tspan><tspan x="2139" dy="14.7">+ assignUser()</tspan><tspan x="2139" dy="14.7">+ deassignUser()</tspan><tspan x="2139" dy="14.7">+ grantPermission()</tspan><tspan x="2139" dy="14.7">and 18 more...</tspan><tspan x="2139" dy="14.7"># applyMovedObjectDidactic</tspan><tspan x="2139" dy="14.7">Templates()</tspan></text></g>
<g id="ilLanguage"><rect class="b" x="2957" y="2223" width="179" height="325"/><line class="s" x1="2957" y1="2245" x2="3136" y2="2245"/><line class="s" x1="2957" y1="2272" x2="3136" y2="2272"/><text class="n" x="3046" y="2239">ilLanguage</text><text y="2287"><tspan x="2965">+ __construct()</tspan><tspan x="2965" dy="14.7">+ getLangKey()</tspan><tspan x="2965" dy="14.7">+ getDefaultLanguage()</tspan><tspan x="2965" dy="14.7">+ getTextDirection()</tspan><tspan x="2965" dy="14.7">+ getContentLanguage()</tspan><tspan x="2965" dy="14.7">+ txtlng()</tspan><tspan x="2965" dy="14.7">+ txt()</tspan><tspan x="2965" dy="14.7">+ exists()</tspan><tspan x="2965" dy="14.7">+ loadLanguageModule()</tspan><tspan x="2965" dy="14.7">+ getInstalledLanguages()</tspan><tspan x="2965" dy="14.7">and 7 more...</tspan><tspan x="2965" dy="14.7">+ _getInstalledLanguages()</tspan><tspan x="2965" dy="14.7">+ _lookupEntry()</tspan><tspan x="2965" dy="14.7">+ lookupId()</tspan><tspan x="2965" dy="14.7">+ getFallbackInstance()</tspan><tspan x="2965" dy="14.7">+ getGlobalInstance()</tspan><tspan x="2965" dy="14.7"># logUsage()</tspan><tspan x="2965" dy="14.7"># isUsageLogEnabled()</tspan></text></g>
<g id="ilObject"><rect class="b" x="2426" y="2613" width="227" height="619"/><line class="s" x1="2426" y1="2635" x2="2653" y2="2635"/><line class="s" x1="2426" y1="2662" x2="2653" y2="2662"/><text class="n" x="2539" y="2629">ilObject</text><text y="2677"><tspan x="2434">+ __construct()</tspan><tspan x="2434" dy="14.7">+ withReferences()</tspan><tspan x="2434" dy="14.7">+ processAutoRating()</tspan><tspan x="2434" dy="14.7">+ read()</tspan><tspan x="2434" dy="14.7">+ getId()</tspan><tspan x="2434" dy="14.7">+ setId()</tspan><tspan x="2434" dy="14.7">+ setRefId()</tspan><tspan x="2434" dy="14.7">+ getRefId()</tspan><tspan x="2434" dy="14.7">+ getType()</tspan><tspan x="2434" dy="14.7">+ setType()</tspan><tspan x="2434" dy="14.7">and 39 more...</tspan><tspan x="2434" dy="14.7">+ _lookupObjIdByImportId()</tspan><tspan x="2434" dy="14.7">+ _lookupImportId()</tspan><tspan x="2434" dy="14.7">+ _lookupOwnerName()</tspan><tspan x="2434" dy="14.7">+ _getIdForImportId()</tspan><tspan x="2434" dy="14.7">+ _getAllReferences()</tspan><tspan x="2434" dy="14.7">+ _lookupTitle()</tspan><tspan x="2434" dy="14.7">+ lookupOfflineStatus()</tspan><tspan x="2434" dy="14.7">+ _lookupOwner()</tspan><tspan x="2434" dy="14.7">+ _getIdsForTitle()</tspan><tspan x="2434" dy="14.7">+ _lookupDescription()</tspan><tspan x="2434" dy="14.7">and 26 more...</tspan><tspan x="2434" dy="14.7"># doMDUpdateListener()</tspan><tspan x="2434" dy="14.7"># beforeMDUpdateListener()</tspan><tspan x="2434" dy="14.7"># doCreateMetaData()</tspan><tspan x="2434" dy="14.7"># beforeCreateMetaData()</tspan><tspan x="2434" dy="14.7"># doUpdateMetaData()</tspan><tspan x="2434" dy="14.7"># beforeUpdateMetaData()</tspan><tspan x="2434" dy="14.7"># doDeleteMetaData()</tspan><tspan x="2434" dy="14.7"># beforeDeleteMetaData()</tspan><tspan x="2434" dy="14.7"># handleAutoRating()</tspan><tspan x="2434" dy="14.7"># hasAutoRating()</tspan><tspan x="2434" dy="14.7">- appendCopyInfoToTranslations()</tspan><tspan x="2434" dy="14.7">- getCallbackForTitlesPerLanguage</tspan><tspan x="2434" dy="14.7">Transformation()</tspan><tspan x="2434" dy="14.7">- appendNumberOfCopiesToTitle()</tspan><tspan x="2434" dy="14.7">- isTitleUnique()</tspan><tspan x="2434" dy="14.7">- buildTitleWithoutCopySuffix()</tspan></text></g>
<g id="ilObjUser"><rect class="b" x="3411" y="3296" width="201" height="750"/><line class="s" x1="3411" y1="3318" x2="3612" y2="3318"/><line class="s" x1="3411" y1="3638" x2="3612" y2="3638"/><text class="n" x="3511" y="3312">ilObjUser</text><text y="3333"><tspan x="3419">+ $login</tspan><tspan x="3419" dy="14.7">+ $gender</tspan><tspan x="3419" dy="14.7">+ $utitle</tspan><tspan x="3419" dy="14.7">+ $firstname</tspan><tspan x="3419" dy="14.7">+ $lastname</tspan><tspan x="3419" dy="14.7">+ $fullname</tspan><tspan x="3419" dy="14.7">+ $department</tspan><tspan x="3419" dy="14.7">+ $street</tspan><tspan x="3419" dy="14.7">+ $city</tspan><tspan x="3419" dy="14.7">+ $country</tspan><tspan x="3419" dy="14.7">and 12 more...</tspan><tspan x="3419" dy="14.7"># $time_limit_message</tspan><tspan x="3419" dy="14.7"># $last_login</tspan><tspan x="3419" dy="14.7"># $passwd</tspan><tspan x="3419" dy="14.7"># $password_encoding_type</tspan><tspan x="3419" dy="14.7"># $password_salt</tspan><tspan x="3419" dy="14.7"># $birthday</tspan><tspan x="3419" dy="14.7"># $second_email</tspan><tspan x="3419" dy="14.7"># $inactivation_date</tspan><tspan x="3419" dy="14.7"># $org_units</tspan><tspan x="3419" dy="14.7"># $last_profile_prompt</tspan></text><text y="3653"><tspan x="3419">+ __construct()</tspan><tspan x="3419" dy="14.7">+ read()</tspan><tspan x="3419" dy="14.7">+ getPasswordEncodingType()</tspan><tspan x="3419" dy="14.7">+ setPasswordEncodingType()</tspan><tspan x="3419" dy="14.7">+ getPasswordSalt()</tspan><tspan x="3419" dy="14.7">+ setPasswordSalt()</tspan><tspan x="3419" dy="14.7">+ assignData()</tspan><tspan x="3419" dy="14.7">+ saveAsNew()</tspan><tspan x="3419" dy="14.7">+ update()</tspan><tspan x="3419" dy="14.7">+ writeAccepted()</tspan><tspan x="3419" dy="14.7">and 168 more...</tspan><tspan x="3419" dy="14.7">+ _lookupFullname()</tspan><tspan x="3419" dy="14.7">+ _lookupEmail()</tspan><tspan x="3419" dy="14.7">+ _lookupGender()</tspan><tspan x="3419" dy="14.7">+ _lookupClientIP()</tspan><tspan x="3419" dy="14.7">+ _lookupName()</tspan><tspan x="3419" dy="14.7">+ _lookupFields()</tspan><tspan x="3419" dy="14.7">+ _lookupLogin()</tspan><tspan x="3419" dy="14.7">+ _lookupExternalAccount()</tspan><tspan x="3419" dy="14.7">+ _lookupId()</tspan><tspan x="3419" dy="14.7">+ _lookupLastLogin()</tspan><tspan x="3419" dy="14.7">and 63 more...</tspan><tspan x="3419" dy="14.7"># buildTextFromArray()</tspan><tspan x="3419" dy="14.7"># readMultiTextFields()</tspan><tspan x="3419" dy="14.7"># deleteMultiTextFields()</tspan><tspan x="3419" dy="14.7">- _lookup()</tspan><tspan x="3419" dy="14.7">- getLoginFromAuth()</tspan></text></g>
<g id="ilObjBookingPool"><rect class="g" x="4188" y="3523" width="216" height="295"/><line class="s" x1="4188" y1="3545" x2="4404" y2="3545"/><line class="s" x1="4188" y1="3572" x2="4404" y2="3572"/><text class="n" x="4296" y="3539">ilObjBookingPool</text><text y="3587"><tspan x="4196">+ __construct()</tspan><tspan x="4196" dy="14.7">+ create()</tspan><tspan x="4196" dy="14.7">+ update()</tspan><tspan x="4196" dy="14.7">+ read()</tspan><tspan x="4196" dy="14.7">+ delete()</tspan><tspan x="4196" dy="14.7">+ cloneObject()</tspan><tspan x="4196" dy="14.7">+ setOffline()</tspan><tspan x="4196" dy="14.7">+ isOffline()</tspan><tspan x="4196" dy="14.7">+ setPublicLog()</tspan><tspan x="4196" dy="14.7">+ hasPublicLog()</tspan><tspan x="4196" dy="14.7">and 14 more...</tspan><tspan x="4196" dy="14.7">+ getPoolsWithReminders()</tspan><tspan x="4196" dy="14.7">+ writeLastReminderTimestamp()</tspan><tspan x="4196" dy="14.7">+ _lookupOnline()</tspan><tspan x="4196" dy="14.7">+ getAdvancedMDFields()</tspan><tspan x="4196" dy="14.7"># getDBFields()</tspan></text></g>
</svg>
